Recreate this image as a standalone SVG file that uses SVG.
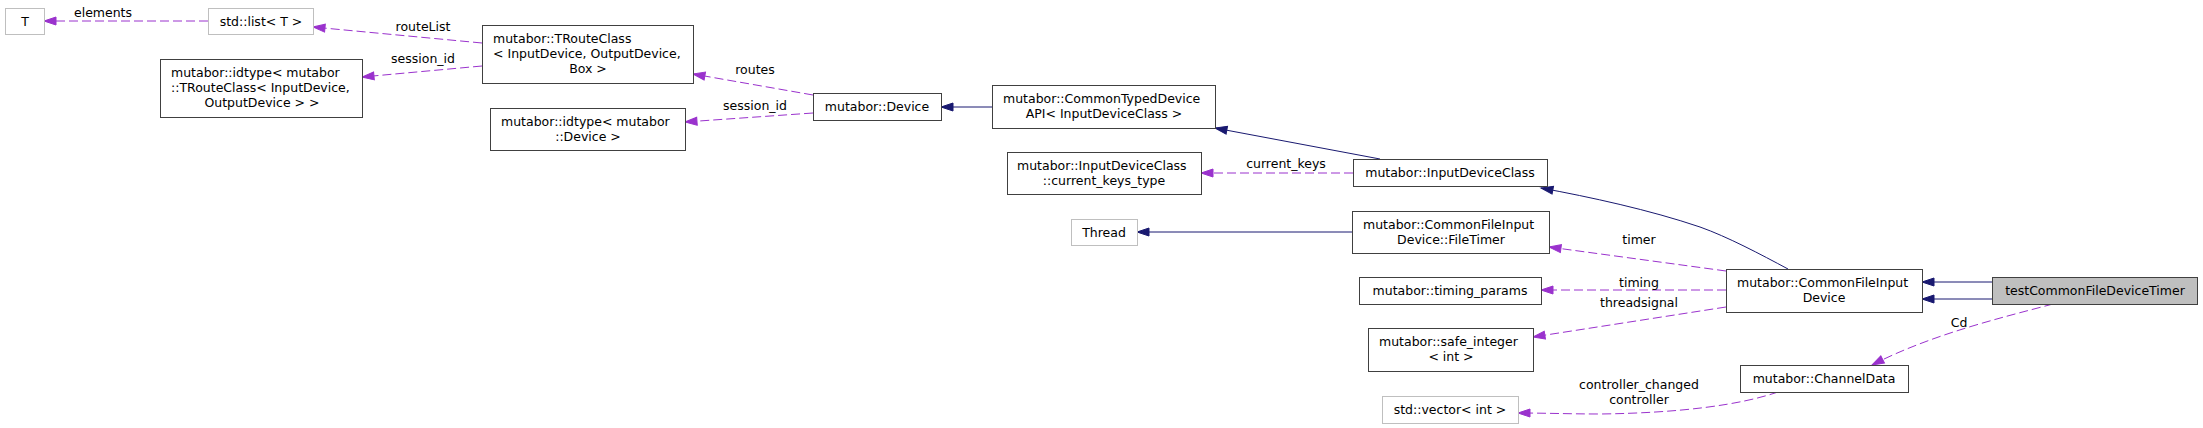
<svg xmlns="http://www.w3.org/2000/svg" width="2203" height="428" viewBox="0 0 2203 428">
<defs>
<style>
.n rect{fill:#ffffff;stroke:#404040;stroke-width:1}
.u rect{fill:#ffffff;stroke:#bfbfbf;stroke-width:1}
.g rect{fill:#bfbfbf;stroke:#404040;stroke-width:1}
text{font-family:"DejaVu Sans","Liberation Sans",sans-serif;font-size:12.5px;fill:#000000}
.m{text-anchor:middle}
.inh{stroke:#191970;stroke-width:1;fill:none;marker-end:url(#an)}
.use{stroke:#9a32cd;stroke-width:1;fill:none;stroke-dasharray:9,4;marker-end:url(#ap)}
</style>
<marker id="an" markerUnits="userSpaceOnUse" markerWidth="14" markerHeight="10" refX="12" refY="4" orient="auto" overflow="visible"><path d="M0,0 L12,4 L0,8 z" fill="#191970" stroke="#191970"/></marker>
<marker id="ap" markerUnits="userSpaceOnUse" markerWidth="14" markerHeight="10" refX="12" refY="4" orient="auto" overflow="visible"><path d="M0,0 L12,4 L0,8 z" fill="#9a32cd" stroke="#9a32cd"/></marker>
</defs>
<rect x="0" y="0" width="2203" height="428" fill="#ffffff"/>
<g id="edges">
<path class="use" d="M208,21 L44,21"/>
<text class="m" x="103" y="17">elements</text>
<path class="use" d="M482,43 L313,27"/>
<text class="m" x="423" y="31">routeList</text>
<path class="use" d="M482,66 L362,77"/>
<text class="m" x="423" y="63">session_id</text>
<path class="use" d="M813,95 L693,74"/>
<text class="m" x="755" y="74">routes</text>
<path class="use" d="M813,113 L685,122"/>
<text class="m" x="755" y="110">session_id</text>
<path class="inh" d="M992,107 L941,107"/>
<path class="inh" d="M1380,159 L1215,128"/>
<path class="use" d="M1353,173 L1201,173"/>
<text class="m" x="1286" y="168">current_keys</text>
<path class="inh" d="M1788,269 C1760,254 1728,237 1700,227 C1650,210 1590,197 1541,188"/>
<path class="inh" d="M1352,232 L1137,232"/>
<path class="use" d="M1726,271 L1549,247"/>
<text class="m" x="1639" y="244">timer</text>
<path class="use" d="M1726,290 L1541,290"/>
<text class="m" x="1639" y="287">timing</text>
<path class="use" d="M1726,307 L1533,337"/>
<text class="m" x="1639" y="307">threadsignal</text>
<path class="inh" d="M1992,282 L1922,282"/>
<path class="inh" d="M1992,299 L1922,299"/>
<path class="use" d="M2053,304 C2000,318 1930,335 1872,365"/>
<text class="m" x="1959" y="327">Cd</text>
<path class="use" d="M1778,392 C1740,405 1680,413 1600,414 C1570,414 1545,413 1518,413"/>
<text class="m" x="1639" y="389">controller_changed</text>
<text class="m" x="1639" y="404">controller</text>
</g>
<g id="T" class="u"><rect x="5.5" y="8.5" width="39" height="26"/><text class="m" x="25" y="26">T</text></g>
<g id="std_list" class="u"><rect x="208.5" y="8.5" width="105" height="26"/><text class="m" x="261" y="26">std::list&lt; T &gt;</text></g>
<g id="idtype_troute" class="n"><rect x="160.5" y="59.5" width="202" height="58"/><text x="171" y="77">mutabor::idtype&lt; mutabor</text><text x="171" y="92">::TRouteClass&lt; InputDevice,</text><text class="m" x="262" y="107">OutputDevice &gt; &gt;</text></g>
<g id="troute" class="n"><rect x="482.5" y="25.5" width="211" height="58"/><text x="493" y="43">mutabor::TRouteClass</text><text x="493" y="58">&lt; InputDevice, OutputDevice,</text><text class="m" x="588" y="73">Box &gt;</text></g>
<g id="device" class="n"><rect x="813.5" y="93.5" width="128" height="27"/><text class="m" x="877" y="111">mutabor::Device</text></g>
<g id="idtype_device" class="n"><rect x="490.5" y="108.5" width="195" height="42"/><text x="501" y="126">mutabor::idtype&lt; mutabor</text><text class="m" x="588" y="141">::Device &gt;</text></g>
<g id="ctda" class="n"><rect x="992.5" y="85.5" width="223" height="43"/><text x="1003" y="103">mutabor::CommonTypedDevice</text><text class="m" x="1104" y="118">API&lt; InputDeviceClass &gt;</text></g>
<g id="current_keys_type" class="n"><rect x="1007.5" y="152.5" width="194" height="42"/><text x="1017" y="170">mutabor::InputDeviceClass</text><text class="m" x="1104" y="185">::current_keys_type</text></g>
<g id="inputdeviceclass" class="n"><rect x="1353.5" y="159.5" width="194" height="27"/><text class="m" x="1450" y="177">mutabor::InputDeviceClass</text></g>
<g id="thread" class="u"><rect x="1071.5" y="219.5" width="66" height="26"/><text class="m" x="1104" y="237">Thread</text></g>
<g id="filetimer" class="n"><rect x="1352.5" y="211.5" width="197" height="42"/><text x="1363" y="229">mutabor::CommonFileInput</text><text class="m" x="1451" y="244">Device::FileTimer</text></g>
<g id="timing_params" class="n"><rect x="1359.5" y="277.5" width="182" height="27"/><text class="m" x="1450" y="295">mutabor::timing_params</text></g>
<g id="safe_integer" class="n"><rect x="1368.5" y="328.5" width="165" height="43"/><text x="1379" y="346">mutabor::safe_integer</text><text class="m" x="1451" y="361">&lt; int &gt;</text></g>
<g id="std_vector" class="u"><rect x="1382.5" y="396.5" width="136" height="27"/><text class="m" x="1450" y="414">std::vector&lt; int &gt;</text></g>
<g id="cfid" class="n"><rect x="1726.5" y="269.5" width="196" height="43"/><text x="1737" y="287">mutabor::CommonFileInput</text><text class="m" x="1824" y="302">Device</text></g>
<g id="test" class="g"><rect x="1992.5" y="277.5" width="205" height="27"/><text class="m" x="2095" y="295">testCommonFileDeviceTimer</text></g>
<g id="channeldata" class="n"><rect x="1740.5" y="365.5" width="168" height="27"/><text class="m" x="1824" y="383">mutabor::ChannelData</text></g>
</svg>
